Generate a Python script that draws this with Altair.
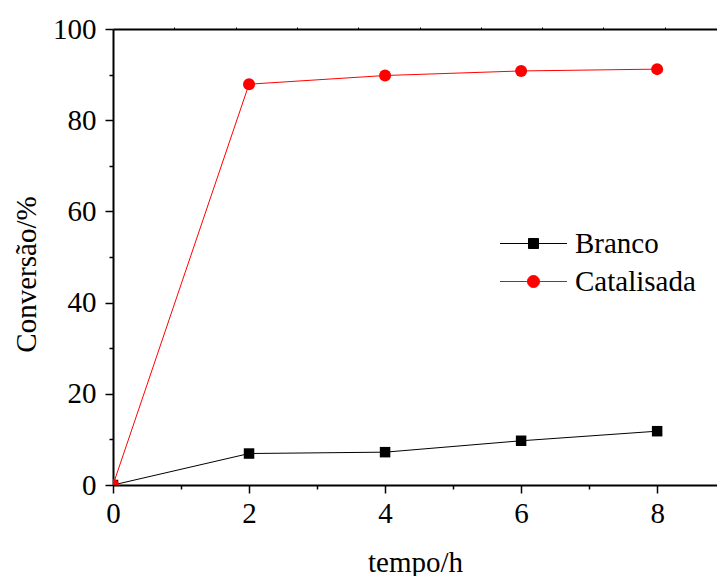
import altair as alt
import pandas as pd

# ---- data ----
tempo = [0, 2, 4, 6, 8]
branco = [0, 6.9, 7.2, 9.7, 11.8]
catalisada = [0, 87.9, 89.8, 90.8, 91.2]
series = ["Branco", "Catalisada"]
series_colors = ["black", "red"]
x_ticks = [0, 1, 2, 3, 4, 5, 6, 7, 8]
y_ticks = [0, 10, 20, 30, 40, 50, 60, 70, 80, 90, 100]
top_ticks = [1, 2, 3, 4, 5, 6, 7, 8, 9]

df = pd.DataFrame({
    "tempo": tempo + tempo,
    "conv": branco + catalisada,
    "serie": [series[0]] * len(tempo) + [series[1]] * len(tempo),
})

FONT = "Liberation Serif"
FS = 29

x_scale = alt.Scale(domain=[0, 8.88], nice=False, zero=False)
y_scale = alt.Scale(domain=[0, 100], nice=False)

x_axis = alt.Axis(
    values=x_ticks,
    title="tempo/h",
    labelExpr="datum.value % 2 === 0 ? datum.label : ''",
    tickSize={"condition": {"test": "datum.value % 2 === 0", "value": 8}, "value": 4},
    labelPadding=6,
    labelFlush=False,
    titleX=302,
    titleY=86,
    titleBaseline="alphabetic",
)
y_axis = alt.Axis(
    values=y_ticks,
    title="Conversão/%",
    labelExpr="datum.value % 20 === 0 ? datum.label : ''",
    tickSize={"condition": {"test": "datum.value % 20 === 0", "value": 8}, "value": 4},
    labelPadding=9,
    labelFlush=False,
    titleX=-78,
    titleY=245,
    titleBaseline="alphabetic",
)

base = alt.Chart(df).encode(
    x=alt.X("tempo:Q", scale=x_scale, axis=x_axis),
    y=alt.Y("conv:Q", scale=y_scale, axis=y_axis),
)

b = base.transform_filter(alt.datum.serie == series[0])
c = base.transform_filter(alt.datum.serie == series[1])

b_line = b.mark_line(color=series_colors[0], strokeWidth=1, clip=True)
b_pts = b.mark_point(shape="square", filled=True, size=110, color=series_colors[0], opacity=1, clip=True)
c_line = c.mark_line(color=series_colors[1], strokeWidth=1, clip=True)
c_pts = c.mark_point(shape="circle", filled=True, size=144, color=series_colors[1], opacity=1, clip=True)

legend_paths = [
    "M-3.94,0H3.94M-0.59,-0.59H0.59V0.59H-0.59Z",
    "M-3.94,0H3.94M0.71,0A0.71,0.71 0 1,1 -0.71,0A0.71,0.71 0 1,1 0.71,0Z",
]
leg = alt.Legend(
    title=None,
    orient="none",
    legendX=406,
    legendY=200,
    padding=0,
    rowPadding=8,
    symbolSize=289,
    symbolStrokeWidth=1,
    symbolOpacity=1,
    labelOffset=27,
    labelFont=FONT,
    labelFontSize=FS,
    labelColor="black",
    direction="vertical",
)
legend_layer = base.transform_filter("false").mark_point(filled=True, strokeWidth=1, opacity=1).encode(
    shape=alt.Shape("serie:N", scale=alt.Scale(domain=series, range=legend_paths), legend=leg),
    fill=alt.Fill("serie:N", scale=alt.Scale(domain=series, range=series_colors), legend=leg),
    stroke=alt.Stroke("serie:N", scale=alt.Scale(domain=series, range=series_colors), legend=leg),
)

main = alt.layer(b_line, b_pts, c_line, c_pts, legend_layer)

top_layer = alt.Chart(df).transform_filter("false").mark_point().encode(
    x=alt.X(
        "tempo:Q",
        scale=alt.Scale(domain=[0, 9.853], nice=False, zero=False),
        axis=alt.Axis(orient="top", values=top_ticks, labels=False, title=None, tickSize=2, tickWidth=1),
    )
)

chart = (
    alt.layer(main, top_layer)
    .resolve_scale(x="independent")
    .properties(
        width=604,
        height=456,
        autosize=alt.AutoSizeParams(type="none"),
        padding={"left": 113, "top": 29, "right": 0, "bottom": 91},
        background="white",
    )
    .configure_view(stroke=None)
    .configure_axis(
        grid=False,
        domainColor="black",
        domainWidth=2,
        tickColor="black",
        tickWidth=1.5,
        labelFont=FONT,
        labelFontSize=FS,
        labelColor="black",
        titleFont=FONT,
        titleFontSize=FS,
        titleColor="black",
        titleFontWeight="normal",
    )
)

chart.save("out.html", embed_options={"renderer": "svg", "actions": False})
